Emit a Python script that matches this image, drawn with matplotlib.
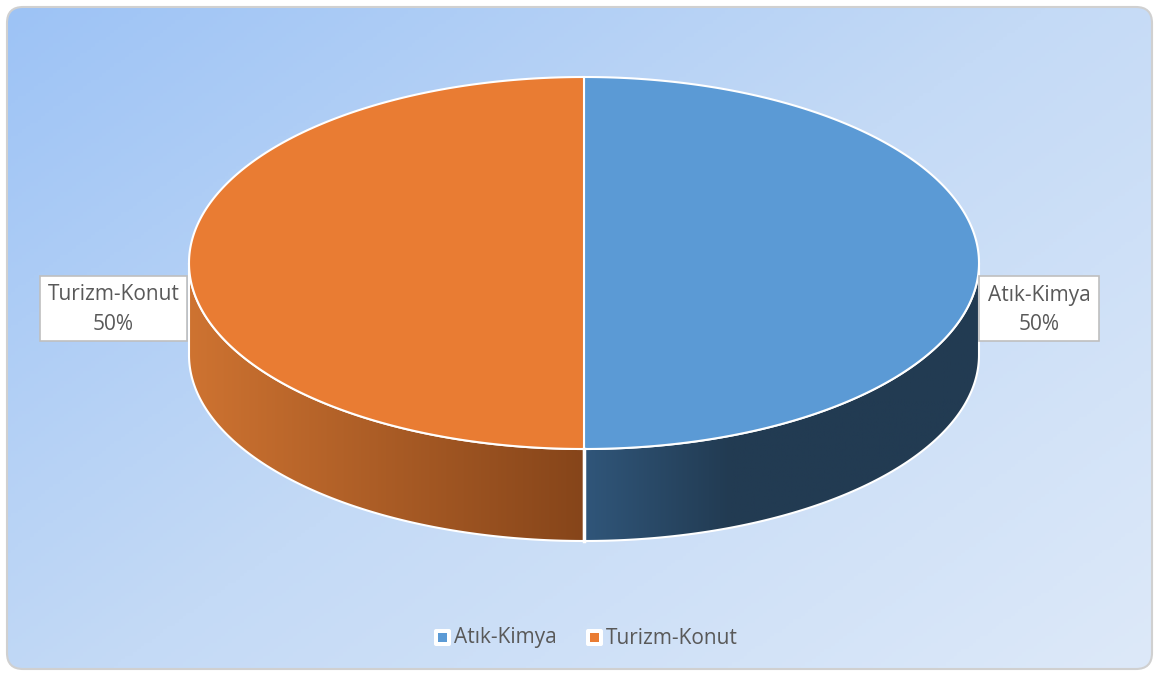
import numpy as np
import matplotlib
matplotlib.use("Agg")
import matplotlib.pyplot as plt
from matplotlib.patches import Polygon, FancyBboxPatch, Rectangle
from matplotlib.colors import LinearSegmentedColormap

plt.rcParams['font.family'] = ['Open Sans', 'DejaVu Sans']

# Data
labels = ['Atık-Kimya', 'Turizm-Konut']
values = [50, 50]
top_colors = ['#5B9AD5', '#E97C33']
side_colors = [('#30567A', '#223B52'), ('#CE7331', '#86451A')]

W, H = 1155, 673
fig = plt.figure(figsize=(W / 100, H / 100), dpi=100)
ax = fig.add_axes([0, 0, 1, 1])
ax.set_xlim(0, W)
ax.set_ylim(H, 0)
ax.axis('off')

# background panel with diagonal gradient
panel = FancyBboxPatch((7, 7), W - 10, H - 11, boxstyle='round,pad=0,rounding_size=16',
                       facecolor='none', edgecolor='#D0D0D0', lw=1.5, zorder=1)
ax.add_patch(panel)
gx, gy = np.meshgrid(np.linspace(0, 1, 300), np.linspace(0, 1, 200))
g = (gx * 0.55 + gy * 0.45)
bg_cmap = LinearSegmentedColormap.from_list('bg', ['#9DC3F5', '#C4DAF6', '#DDE9F9'])
im = ax.imshow(g, cmap=bg_cmap, extent=(7, W - 3, H - 4, 7), aspect='auto', zorder=0)
im.set_clip_path(panel)

# pie geometry (pixel space)
cx, cy, a, b, depth = 584, 263, 395, 186, 92


def rim(t):
    # t measured clockwise from the top, degrees
    r = np.radians(t)
    return cx + a * np.sin(r), cy - b * np.cos(r)


total = sum(values)
start = 0.0
for lab, v, tc, (c_near, c_far) in zip(labels, values, top_colors, side_colors):
    end = start + 360.0 * v / total
    # visible side wall: front half of the rim (90..270)
    s0, s1 = max(start, 90), min(end, 270)
    if s1 > s0:
        t = np.linspace(s0, s1, 200)
        x, y = rim(t)
        pts = np.column_stack([np.r_[x, x[::-1]], np.r_[y, (y + depth)[::-1]]])
        side = Polygon(pts, closed=True, facecolor='none', edgecolor='white', lw=1.5, zorder=3)
        ax.add_patch(side)
        # horizontal shading across the side wall
        xs = np.linspace(0, 1, 256)[None, :]
        if s0 < 180:
            cmap = LinearSegmentedColormap.from_list('s', [(0, c_near), (0.37, c_far), (1, c_far)])
        else:
            cmap = LinearSegmentedColormap.from_list('s', [c_near, c_far])
        grad = ax.imshow(xs, cmap=cmap, extent=(x.min(), x.max(), y.max() + depth, y.min()),
                         aspect='auto', zorder=2)
        grad.set_clip_path(side)
    # top face
    t = np.linspace(start, end, 400)
    x, y = rim(t)
    pts = np.column_stack([np.r_[cx, x], np.r_[cy, y]])
    ax.add_patch(Polygon(pts, closed=True, facecolor=tc, edgecolor='white', lw=1.5, zorder=4))
    start = end

# seam between the two sides at the front
ax.plot([cx, cx], [cy + b, cy + b + depth], color='white', lw=2.5, zorder=5)


# data labels
def label_box(x0, y0, w, h, text):
    ax.add_patch(Rectangle((x0, y0), w, h, facecolor='white', edgecolor='#BFBFBF', lw=1.2, zorder=6))
    ax.text(x0 + w / 2, y0 + h / 2 + 1, text, ha='center', va='center', fontsize=15,
            color='#595959', linespacing=1.5, zorder=7)


pct = [f'{v / total:.0%}' for v in values]
label_box(979, 276, 120, 65, f'{labels[0]}\n{pct[0]}')
label_box(40, 276, 147, 65, f'{labels[1]}\n{pct[1]}')

# legend
leg_items = [(434, labels[0], top_colors[0]), (586, labels[1], top_colors[1])]
for lx, lab, col in leg_items:
    ax.add_patch(FancyBboxPatch((lx, 629), 17, 17, boxstyle='round,pad=0,rounding_size=2',
                                facecolor='white', edgecolor='none', zorder=6))
    ax.add_patch(Rectangle((lx + 4, 633), 9, 9, facecolor=col, edgecolor='none', zorder=7))
    ax.text(lx + 20, 638, lab, ha='left', va='center', fontsize=15, color='#595959', zorder=7)

fig.savefig('out.png', dpi=100)
